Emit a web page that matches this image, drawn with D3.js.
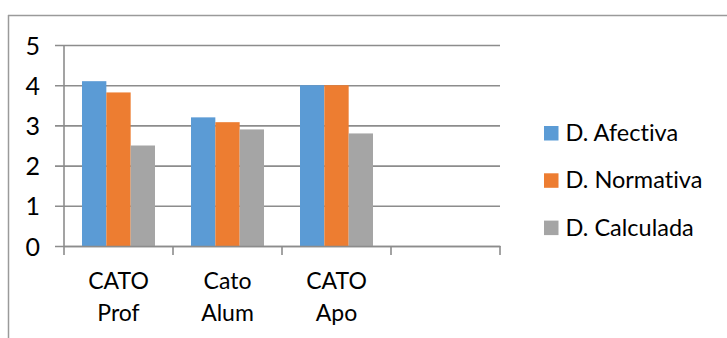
<!DOCTYPE html>
<html>
<head>
<meta charset="utf-8">
<script src="https://cdn.jsdelivr.net/npm/d3@7"></script>
<style>
  html, body { margin: 0; padding: 0; background: #fff; }
  svg { display: block; }
  text { font-family: Lato, "Open Sans", sans-serif; fill: #000; font-variant-ligatures: none; font-feature-settings: "liga" 0, "clig" 0; }
</style>
</head>
<body>
<svg id="chart" width="727" height="338"></svg>
<script>
// Categories (the fourth slot is left empty on purpose)
const categories = ["CATO Prof", "Cato Alum", "CATO Apo", ""];
const seriesNames = ["D. Afectiva", "D. Normativa", "D. Calculada"];
const afectiva   = [4.1, 3.2, 4.0];
const normativa  = [3.82, 3.08, 4.0];
const calculada  = [2.5, 2.9, 2.8];
const yTicks = [0, 1, 2, 3, 4, 5];
const colors = ["#5B9BD5", "#ED7D31", "#A5A5A5"];

const seriesValues = [afectiva, normativa, calculada];

const svg = d3.select("#chart");
const plot = { left: 64, right: 500, top: 45, bottom: 246 };

// Outer frame (top and left edges)
svg.append("line").attr("x1", 8).attr("x2", 727).attr("y1", 15.5).attr("y2", 15.5)
  .attr("stroke", "#9a9a9a").attr("stroke-width", 1.5);
svg.append("line").attr("x1", 8.5).attr("x2", 8.5).attr("y1", 15).attr("y2", 338)
  .attr("stroke", "#9a9a9a").attr("stroke-width", 1.5);

const y = d3.scaleLinear().domain([0, 5]).range([plot.bottom, plot.top]);
const x0 = d3.scaleBand().domain(categories.map((c, i) => i)).range([plot.left, plot.right]).padding(0);
const x1 = d3.scaleBand().domain(seriesNames).range([0, x0.bandwidth()]).paddingInner(0).paddingOuter(0.74);

// Gridlines + value labels
const gy = svg.append("g").attr("transform", `translate(${plot.left - 9},0)`)
  .call(d3.axisLeft(y).tickValues(yTicks).tickFormat(d3.format("d"))
    .tickSize(-(plot.right - plot.left + 9)).tickPadding(15));
gy.select(".domain").remove();
gy.selectAll(".tick line").attr("stroke", "#8c8c8c").attr("stroke-width", 1.6);
gy.selectAll(".tick text").attr("font-size", 25).attr("dy", "0.36em")
  .style("font-family", "Lato, sans-serif");

// Bars
seriesNames.forEach((name, s) => {
  svg.append("g").selectAll("rect")
    .data(seriesValues[s])
    .join("rect")
    .attr("x", (d, i) => x0(i) + x1(name))
    .attr("y", d => y(d))
    .attr("width", x1.bandwidth())
    .attr("height", d => y(0) - y(d))
    .attr("fill", colors[s]);
});

// Vertical value axis line
svg.append("line").attr("x1", plot.left).attr("x2", plot.left)
  .attr("y1", plot.top).attr("y2", plot.bottom)
  .attr("stroke", "#8c8c8c").attr("stroke-width", 1.6);

// Category axis: baseline, dividers, two-line labels
const gx = svg.append("g").attr("transform", `translate(0,${plot.bottom})`)
  .call(d3.axisBottom(x0).tickSize(0).tickFormat(""));
gx.select(".domain").attr("stroke", "#8c8c8c").attr("stroke-width", 1.6);
gx.selectAll(".tick").remove();

const bounds = categories.map((c, i) => x0(i)).concat([plot.right]);
svg.append("g").selectAll("line").data(bounds).join("line")
  .attr("x1", d => d).attr("x2", d => d)
  .attr("y1", plot.bottom).attr("y2", plot.bottom + 9)
  .attr("stroke", "#8c8c8c").attr("stroke-width", 1.6);

const labels = svg.append("g").selectAll("text")
  .data(categories.map((c, i) => ({ c, i })).filter(d => d.c))
  .join("text")
  .attr("text-anchor", "middle")
  .attr("font-size", 23)
  .attr("transform", d => `translate(${x0(d.i) + x0.bandwidth() / 2},289)`);
labels.selectAll("tspan").data(d => d.c.split(" ")).join("tspan")
  .attr("x", 0).attr("dy", (d, k) => k === 0 ? 0 : 32).text(d => d);

// Legend
const legend = svg.append("g").selectAll("g").data(seriesNames).join("g")
  .attr("transform", (d, i) => `translate(544,${126 + i * 47.3})`);
legend.append("rect").attr("width", 14.5).attr("height", 14.5)
  .attr("fill", (d, i) => colors[i]);
legend.append("text").attr("x", 21.5).attr("y", 15)
  .attr("font-size", 23.5).text(d => d);
</script>
</body>
</html>
